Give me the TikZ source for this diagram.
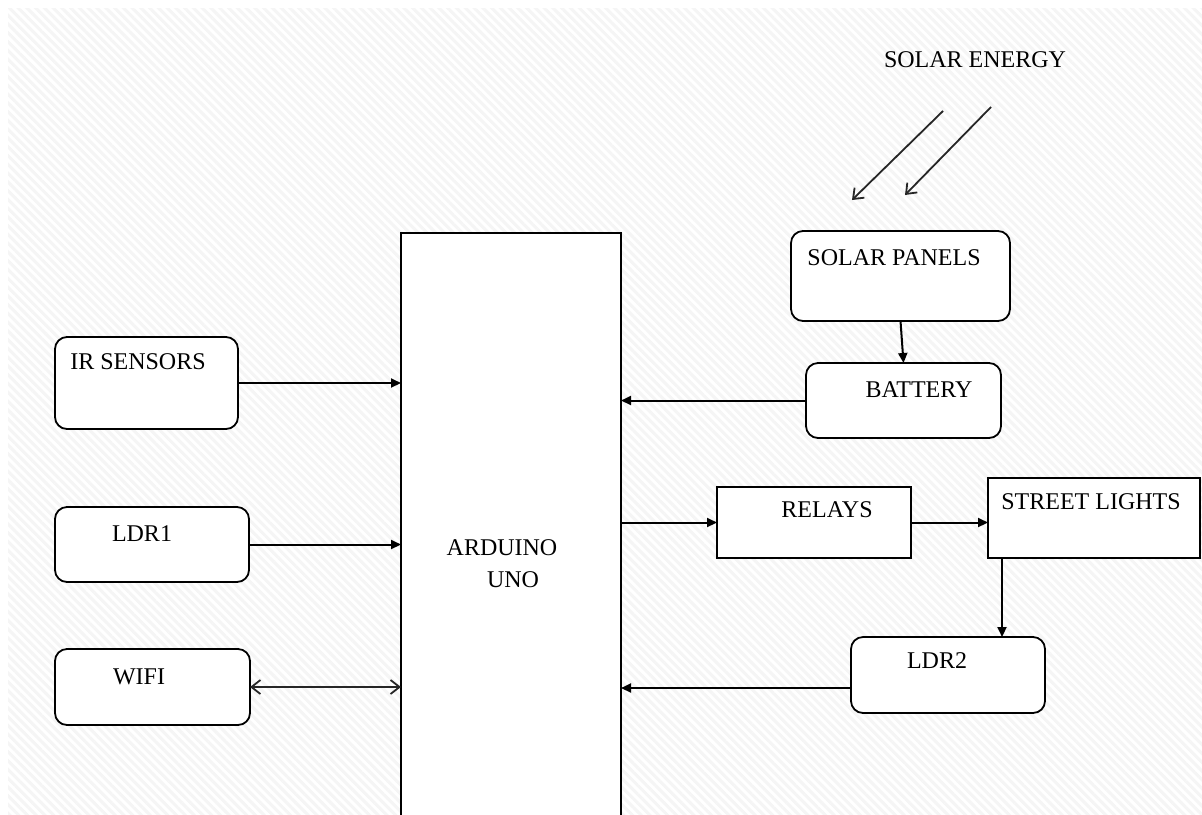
\documentclass[tikz,border=0pt]{standalone}
\usepackage{fontspec}
\setmainfont{Liberation Serif}
\usetikzlibrary{positioning, arrows.meta, patterns.meta}

\begin{document}
\begin{tikzpicture}[
  x=0.5pt, y=-0.5pt,
  rbox/.style={
    rectangle, rounded corners=6pt, draw=black, fill=white,
    line width=0.9pt, inner sep=0pt, outer sep=0pt
  },
  sbox/.style={
    rectangle, draw=black, fill=white,
    line width=0.9pt, inner sep=0pt, outer sep=0pt
  },
  lbl/.style={font=\fontsize{12}{14}\selectfont, inner sep=0pt},
  arr/.style={-{Triangle[length=5pt, width=4.5pt]}, line width=1pt},
  barb/.style={-{Straight Barb[length=4.5pt, width=7pt]}, line width=0.9pt, color=black!85},
]

% Fond hachure
\clip (0,0) rectangle (1202,814);
\fill[white] (0,0) rectangle (1202,814);
\fill[pattern={Lines[angle=-45, distance=3.1pt, line width=1.5pt]}, pattern color=black!4]
  (8,8) rectangle (1202,814);

% Microcontroleur
\node[sbox, minimum width=110pt, minimum height=310pt, anchor=north] (ard) at (511,233) {};
\node[lbl] (ardtxt) at (502,548) {ARDUINO};
\node[lbl] (unotxt) at (513,580) {UNO};

% Entrees
\node[rbox, minimum width=91.5pt, minimum height=46pt] (ir) at (146.5,383) {};
\node[lbl] (irtxt) at (138,362) {IR SENSORS};
\node[rbox, minimum width=97pt, minimum height=37.5pt] (ldr1) at (152,544.5) {};
\node[lbl] (ldr1txt) at (142,534) {LDR1};
\node[rbox, minimum width=97.5pt, minimum height=38pt] (wifi) at (152.5,687) {};
\node[lbl] (wifitxt) at (139,677) {WIFI};

% Energie solaire
\node[lbl] (sun) at (975,60) {SOLAR ENERGY};
\coordinate (ray1) at (943,111);
\coordinate (hit1) at (852,200);
\coordinate (ray2) at (991,107);
\coordinate (hit2) at (905,195);
\node[rbox, minimum width=109.5pt, minimum height=45pt] (spanel) at (900.5,276) {};
\node[lbl] (spaneltxt) at (894,258) {SOLAR PANELS};
\node[rbox, minimum width=97.5pt, minimum height=37.5pt] (bat) at (903.5,400.5) {};
\node[lbl] (battxt) at (919,390) {BATTERY};

% Sorties
\node[sbox, minimum width=97pt, minimum height=35.5pt] (rel) at (814,522.5) {};
\node[lbl] (reltxt) at (827,510) {RELAYS};
\node[sbox, minimum width=106pt, minimum height=40pt] (slight) at (1094,518) {};
\node[lbl] (slighttxt) at (1091,502) {STREET LIGHTS};
\node[rbox, minimum width=97pt, minimum height=38pt] (ldr2) at (948,675) {};
\node[lbl] (ldr2txt) at (937,661) {LDR2};

% Fleches
\draw[barb] (ray1) -- (hit1);
\draw[barb] (ray2) -- (hit2);
\draw[arr] (spanel.south) -- (bat.north);
\draw[arr] (bat.west) -- (bat.west -| ard.east);
\draw[arr] (ir.east) -- (ir.east -| ard.west);
\draw[arr] (ldr1.east) -- (ldr1.east -| ard.west);
\draw[barb, {Straight Barb[length=4.5pt, width=7pt]}-{Straight Barb[length=4.5pt, width=7pt]}]
  (wifi.east) -- (wifi.east -| ard.west);
\draw[arr] (rel.west -| ard.east) -- (rel.west);
\draw[arr] (rel.east) -- (rel.east -| slight.west);
\draw[arr] ([xshift=7pt]slight.south west) -- ([xshift=7pt]slight.south west |- ldr2.north);
\draw[arr] ([yshift=-6.5pt]ldr2.west) -- ([yshift=-6.5pt]ldr2.west -| ard.east);

\end{tikzpicture}
\end{document}
